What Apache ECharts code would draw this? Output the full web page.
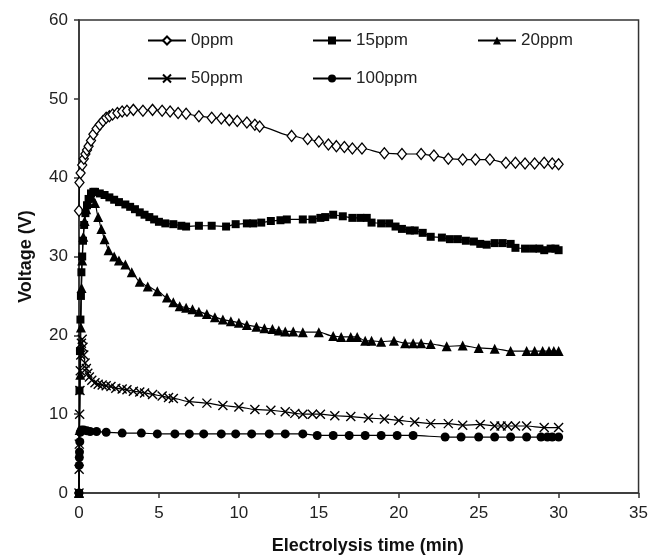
<!DOCTYPE html>
<html>
<head>
<meta charset="utf-8">
<script src="https://cdn.jsdelivr.net/npm/echarts@6/dist/echarts.min.js"></script>
<style>html,body{margin:0;padding:0;background:#fff}#c{width:651px;height:560px}</style>
</head>
<body>
<div id="c"></div>
<script>
const seriesNames = ['0ppm', '15ppm', '20ppm', '50ppm', '100ppm'];
const xTicks = [0, 5, 10, 15, 20, 25, 30, 35];
const yTicks = [0, 10, 20, 30, 40, 50, 60];

const s0ppm = [[0,35.8],[0.03,39.4],[0.1,40.6],[0.2,41.6],[0.3,42.4],[0.4,43.0],[0.5,43.5],[0.6,44.0],[0.75,44.7],[0.9,45.5],[1.1,46.2],[1.3,46.7],[1.5,47.2],[1.7,47.6],[1.9,47.8],[2.1,48.0],[2.4,48.2],[2.7,48.4],[3.0,48.5],[3.4,48.6],[4.0,48.5],[4.6,48.6],[5.2,48.5],[5.7,48.4],[6.2,48.2],[6.7,48.1],[7.5,47.8],[8.3,47.6],[8.9,47.5],[9.4,47.3],[9.9,47.2],[10.5,47.0],[11.0,46.7],[11.3,46.5],[13.3,45.3],[14.3,44.9],[15.0,44.6],[15.6,44.2],[16.1,44.0],[16.6,43.9],[17.1,43.7],[17.7,43.7],[19.1,43.1],[20.2,43.0],[21.4,43.0],[22.2,42.8],[23.1,42.4],[24.0,42.3],[24.8,42.3],[25.7,42.3],[26.7,41.9],[27.3,41.9],[27.9,41.8],[28.5,41.8],[29.1,41.9],[29.6,41.8],[30.0,41.7]];

const s15ppm = [[0,0],[0.03,13],[0.06,18],[0.09,22],[0.12,25],[0.15,28],[0.2,30],[0.25,32],[0.32,34],[0.4,35.5],[0.5,36.5],[0.6,37.3],[0.75,38.0],[0.9,38.2],[1.0,38.2],[1.3,38.0],[1.6,37.8],[1.9,37.5],[2.2,37.2],[2.5,36.9],[2.9,36.6],[3.2,36.3],[3.5,36.0],[3.8,35.6],[4.1,35.3],[4.4,35.0],[4.7,34.7],[5.0,34.4],[5.4,34.2],[5.9,34.1],[6.4,33.9],[6.7,33.8],[7.5,33.9],[8.3,33.9],[9.2,33.8],[9.8,34.1],[10.5,34.2],[10.9,34.2],[11.4,34.3],[12.0,34.5],[12.6,34.6],[13.0,34.7],[14.0,34.7],[14.6,34.7],[15.1,34.9],[15.4,35.0],[15.9,35.3],[16.5,35.1],[17.1,34.9],[17.6,34.9],[18.0,34.9],[18.3,34.3],[18.9,34.2],[19.4,34.2],[19.8,33.8],[20.2,33.5],[20.7,33.3],[21.0,33.3],[21.5,33.0],[22.0,32.5],[22.7,32.4],[23.2,32.2],[23.7,32.2],[24.2,32.0],[24.7,31.9],[25.1,31.6],[25.5,31.5],[26.0,31.7],[26.5,31.7],[27.0,31.6],[27.3,31.1],[27.9,31.0],[28.4,31.0],[28.8,31.0],[29.1,30.8],[29.5,31.0],[29.8,31.0],[30.0,30.8]];

const s20ppm = [[0,0],[0.04,8],[0.08,15],[0.12,21],[0.16,26],[0.2,29.5],[0.27,32.5],[0.35,34.5],[0.45,36],[0.55,37],[0.65,37.5],[0.8,37.5],[1.0,36.8],[1.2,35.0],[1.4,33.5],[1.6,32.2],[1.85,30.8],[2.2,30.0],[2.5,29.5],[2.9,29.0],[3.3,28.0],[3.8,26.8],[4.3,26.2],[4.9,25.6],[5.5,24.8],[5.9,24.2],[6.3,23.7],[6.7,23.5],[7.1,23.3],[7.5,23.0],[8.0,22.7],[8.5,22.3],[9.0,22.0],[9.5,21.8],[10.0,21.6],[10.5,21.3],[11.1,21.1],[11.6,20.9],[12.1,20.8],[12.5,20.6],[12.9,20.5],[13.4,20.5],[14.0,20.4],[15.0,20.4],[15.9,19.9],[16.4,19.8],[17.0,19.8],[17.4,19.8],[17.9,19.3],[18.3,19.3],[18.9,19.2],[19.7,19.3],[20.4,19.0],[20.9,19.0],[21.4,19.0],[22.0,18.9],[23.0,18.6],[24.0,18.7],[25.0,18.4],[26.0,18.3],[27.0,18.0],[28.0,18.0],[28.5,18.0],[29.0,18.0],[29.4,18.0],[29.7,18.0],[30.0,18.0]];

const s50ppm = [[0,0],[0.01,3],[0.02,6.2],[0.04,10],[0.06,13],[0.08,15.5],[0.11,17.5],[0.15,19],[0.2,19.5],[0.25,18.5],[0.3,17.5],[0.38,16.5],[0.46,15.8],[0.55,15.2],[0.65,14.7],[0.8,14.3],[1.0,14.0],[1.2,13.8],[1.45,13.7],[1.7,13.6],[2.0,13.5],[2.3,13.3],[2.7,13.2],[3.0,13.1],[3.4,12.9],[3.8,12.8],[4.1,12.7],[4.6,12.5],[5.2,12.3],[5.6,12.1],[5.9,12.0],[6.9,11.6],[8.0,11.4],[9.0,11.1],[10.0,10.9],[11.0,10.6],[12.0,10.5],[12.9,10.3],[13.5,10.1],[14.0,10.0],[14.6,10.0],[15.1,10.0],[16.0,9.8],[17.0,9.7],[18.1,9.5],[19.1,9.4],[20.0,9.2],[21.0,9.0],[22.0,8.8],[23.1,8.8],[24.0,8.6],[25.1,8.7],[26.0,8.5],[26.4,8.5],[26.8,8.5],[27.3,8.5],[28.0,8.5],[29.1,8.3],[30.0,8.3]];

const s100ppm = [[0,0],[0.01,3.5],[0.02,4.5],[0.03,5.2],[0.05,6.5],[0.08,7.7],[0.15,8.0],[0.3,8.0],[0.5,7.9],[0.7,7.8],[1.1,7.8],[1.7,7.7],[2.7,7.6],[3.9,7.6],[4.9,7.5],[6.0,7.5],[6.9,7.5],[7.8,7.5],[8.9,7.5],[9.8,7.5],[10.8,7.5],[11.9,7.5],[12.9,7.5],[14.0,7.5],[14.9,7.3],[15.9,7.3],[16.9,7.3],[17.9,7.3],[18.9,7.3],[19.9,7.3],[20.9,7.3],[22.9,7.1],[23.9,7.1],[25.0,7.1],[26.0,7.1],[27.0,7.1],[28.0,7.1],[28.9,7.1],[29.3,7.1],[29.6,7.1],[30.0,7.1]];

const seriesData = [s0ppm, s15ppm, s20ppm, s50ppm, s100ppm];

const FONT = '"Liberation Sans", Arial, sans-serif';
const markers = [
  {symbol: 'diamond', size: [9, 11], item: {color: '#fff', borderColor: '#000', borderWidth: 1.3}},
  {symbol: 'rect', size: 8, item: {color: '#000'}},
  {symbol: 'triangle', size: 10, item: {color: '#000'}},
  {symbol: 'path://M0,0L10,10M10,0L0,10', size: 9, item: {color: 'rgba(0,0,0,0)', borderColor: '#000', borderWidth: 1.4}},
  {symbol: 'circle', size: 9, item: {color: '#000'}}
];
const legendPos = [[147, 32], [312, 32], [477, 32], [147, 70], [312, 70]];

const chart = echarts.init(document.getElementById('c'), null, {renderer: 'canvas'});
const option = {
  animation: false,
  backgroundColor: '#fff',
  textStyle: {fontFamily: FONT},
  grid: {left: 79, right: 10, top: 20, bottom: 66, show: true, borderColor: '#333', borderWidth: 1.5, backgroundColor: 'transparent'},
  legend: seriesNames.map((n, i) => ({
    data: [n], left: legendPos[i][0], top: legendPos[i][1], padding: 0,
    itemWidth: 38, itemHeight: 10, itemGap: 0,
    textStyle: {fontFamily: FONT, fontSize: 17, color: '#222'}
  })),
  xAxis: {
    type: 'value', min: xTicks[0], max: xTicks[xTicks.length - 1], interval: 5,
    name: 'Electrolysis time (min)', nameLocation: 'middle', nameGap: 44,
    nameTextStyle: {fontFamily: FONT, fontSize: 18, fontWeight: 'bold', color: '#111', padding: [0, 0, 0, 18]},
    axisLine: {show: true, lineStyle: {color: '#333', width: 1.5}},
    axisTick: {show: true, length: 5, lineStyle: {color: '#333', width: 1.5}},
    axisLabel: {fontFamily: FONT, fontSize: 17, color: '#222', margin: 12},
    splitLine: {show: false}
  },
  yAxis: {
    type: 'value', min: yTicks[0], max: yTicks[yTicks.length - 1], interval: 10,
    name: 'Voltage (V)', nameLocation: 'middle', nameGap: 44,
    nameTextStyle: {fontFamily: FONT, fontSize: 18, fontWeight: 'bold', color: '#111'},
    axisLine: {show: true, lineStyle: {color: '#333', width: 1.5}},
    axisTick: {show: true, length: 5, lineStyle: {color: '#333', width: 1.5}},
    axisLabel: {fontFamily: FONT, fontSize: 17, color: '#222', margin: 11},
    splitLine: {show: false}
  },
  series: seriesNames.map((n, i) => ({
    name: n, type: 'line', data: seriesData[i],
    smooth: 0.3, smoothMonotone: 'x',
    symbol: markers[i].symbol, symbolSize: markers[i].size, showAllSymbol: true,
    lineStyle: {color: '#000', width: 1.2},
    itemStyle: markers[i].item,
    z: 2 + i
  }))
};
chart.setOption(option);
</script>
</body>
</html>
